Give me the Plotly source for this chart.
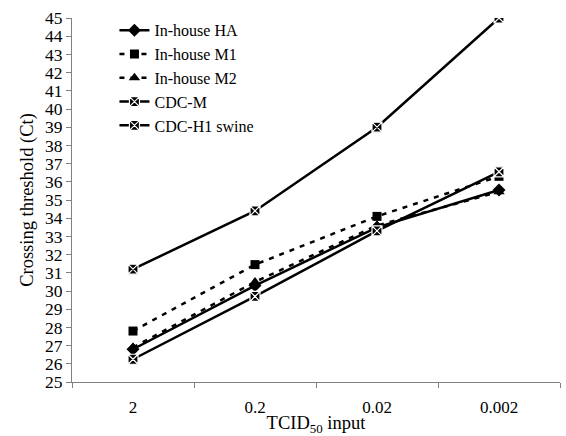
import plotly.graph_objects as go

categories = ["2", "0.2", "0.02", "0.002"]
inhouse_ha = [26.8, 30.3, 33.5, 35.55]
inhouse_m1 = [27.8, 31.45, 34.1, 36.3]
inhouse_m2 = [26.9, 30.5, 33.6, 35.45]
cdc_m = [26.25, 29.7, 33.3, 36.55]
cdc_h1 = [31.2, 34.4, 39.0, 45.0]
series_names = ["In-house HA", "In-house M1", "In-house M2", "CDC-M", "CDC-H1 swine"]

font_family = "Liberation Serif, Times New Roman, serif"

fig = go.Figure()
fig.add_trace(go.Scatter(x=categories, y=inhouse_ha, name=series_names[0], mode="lines+markers",
                         line=dict(color="black", width=2.5),
                         marker=dict(symbol="diamond", size=10, color="black")))
fig.add_trace(go.Scatter(x=categories, y=inhouse_m1, name=series_names[1], mode="lines+markers",
                         line=dict(color="black", width=2.5, dash="5px,6px"),
                         marker=dict(symbol="square", size=9, color="black")))
fig.add_trace(go.Scatter(x=categories, y=inhouse_m2, name=series_names[2], mode="lines+markers",
                         line=dict(color="black", width=2.5, dash="5px,6px"),
                         marker=dict(symbol="triangle-up", size=10, color="black")))
fig.add_trace(go.Scatter(x=categories, y=cdc_m, name=series_names[3], mode="lines+markers",
                         line=dict(color="black", width=2.5),
                         marker=dict(symbol="square-x", size=10, color="black",
                                     line=dict(color="white", width=1.2))))
fig.add_trace(go.Scatter(x=categories, y=cdc_h1, name=series_names[4], mode="lines+markers",
                         line=dict(color="black", width=2.5),
                         marker=dict(symbol="square-x", size=10, color="black",
                                     line=dict(color="white", width=1.2))))

fig.update_layout(
    width=566, height=436,
    margin=dict(l=72, r=6, t=18, b=54, autoexpand=False),
    paper_bgcolor="white", plot_bgcolor="white",
    font=dict(family=font_family, size=17, color="black"),
    legend=dict(x=0.087, y=1.013, xanchor="left", yanchor="top",
                bgcolor="rgba(0,0,0,0)", font=dict(size=16),
                tracegroupgap=0),
    showlegend=True,
)
fig.update_xaxes(
    type="category", showline=True, linecolor="#808080", linewidth=1,
    ticks="outside", tickson="boundaries", ticklen=5, tickcolor="#808080",
    showgrid=False, zeroline=False, range=[-0.5, 3.5], automargin=False,
    tickfont=dict(size=17), ticklabelstandoff=10,
    title=dict(text="TCID<sub>50</sub> input", standoff=4, font=dict(size=18.5)),
)
fig.update_yaxes(
    range=[25, 45], dtick=1, showline=True, linecolor="#808080", linewidth=1,
    ticks="outside", ticklen=5, tickcolor="#808080", showgrid=False, zeroline=False,
    automargin=False, tickfont=dict(size=17.5),
    title=dict(text="Crossing threshold (Ct)", standoff=6, font=dict(size=18.5)),
)

fig.write_html("out.html", config={"displayModeBar": False},
               post_script="document.body.style.margin='0px';document.body.style.padding='0px';")
